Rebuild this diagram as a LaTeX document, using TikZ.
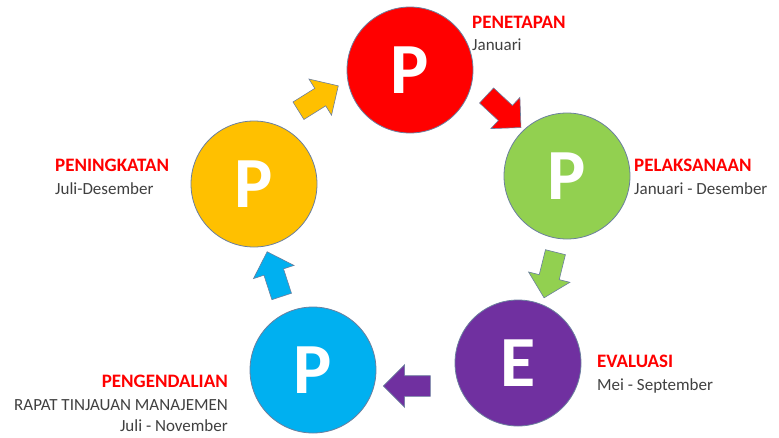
\documentclass[tikz,border=0pt]{standalone}
\usepackage{fontspec}
\setmainfont{Carlito}
\usetikzlibrary{shapes.arrows}

\definecolor{pRed}{HTML}{FF0000}
\definecolor{pGreen}{HTML}{92D050}
\definecolor{pPurple}{HTML}{7030A0}
\definecolor{pBlue}{HTML}{00B0F0}
\definecolor{pGold}{HTML}{FFC000}
\definecolor{rim}{HTML}{6B7F9E}
\definecolor{subtxt}{HTML}{404040}

\tikzset{
  phase/.style={circle, draw=rim, line width=0.8pt, minimum size=126pt,
    inner sep=0pt, text=white, font=\fontsize{72}{72}\selectfont\bfseries},
  flow/.style={single arrow, draw=rim, line width=0.6pt, inner sep=10pt,
    single arrow head extend=11pt, single arrow tip angle=90,
    minimum height=47pt},
  title/.style={inner sep=0pt, text=pRed, font=\fontsize{19}{22}\selectfont\bfseries},
  sub/.style={inner sep=0pt, text=subtxt, font=\fontsize{17}{20}\selectfont}
}

\begin{document}
\begin{tikzpicture}[x=1pt, y=-1pt]
\useasboundingbox (0,0) rectangle (779,437);

\def \gap {23pt} % distance between two text lines

% the five phases
\foreach \nm/\x/\y/\col/\ltr in {pen/410/70/pRed/P, pel/567/176/pGreen/P,
  eva/518/363/pPurple/E, peng/313/370/pBlue/P, pening/254/184/pGold/P}
{
  \node[phase, fill=\col] (\nm) at (\x,\y) {\ltr};
}

% block arrows between the phases
\foreach \i/\x/\y/\ang/\col in {1/500/108/-43/pRed, 2/551/270/-104/pGreen,
  3/412/386/180/pPurple, 4/276/279/108/pBlue, 5/314/101/32/pGold}
{
  \node[flow, fill=\col, rotate=\ang] (arr\i) at (\x,\y) {};
}

% labels
\node[title, anchor=base west] (pen-t) at (472,28) {PENETAPAN};
\node[sub, anchor=base west] (pen-d) at ([yshift=-22pt]pen-t.base west) {Januari};

\node[title, anchor=base west] (pel-t) at (634,171) {PELAKSANAAN};
\node[sub, anchor=base west] (pel-d) at ([yshift=-\gap]pel-t.base west) {Januari - Desember};

\node[title, anchor=base west] (eva-t) at (597,367) {EVALUASI};
\node[sub, anchor=base west] (eva-d) at ([yshift=-\gap]eva-t.base west) {Mei - September};

\node[title, anchor=base east] (peng-t) at (228,387) {PENGENDALIAN};
\node[sub, anchor=base east] (peng-d) at ([yshift=-\gap]peng-t.base east) {RAPAT TINJAUAN MANAJEMEN};
\node[sub, anchor=base east] (peng-m) at ([yshift=-21pt]peng-d.base east) {Juli - November};

\node[title, anchor=base west] (pening-t) at (55,171) {PENINGKATAN};
\node[sub, anchor=base west] (pening-d) at ([yshift=-\gap]pening-t.base west) {Juli-Desember};
\end{tikzpicture}
\end{document}
